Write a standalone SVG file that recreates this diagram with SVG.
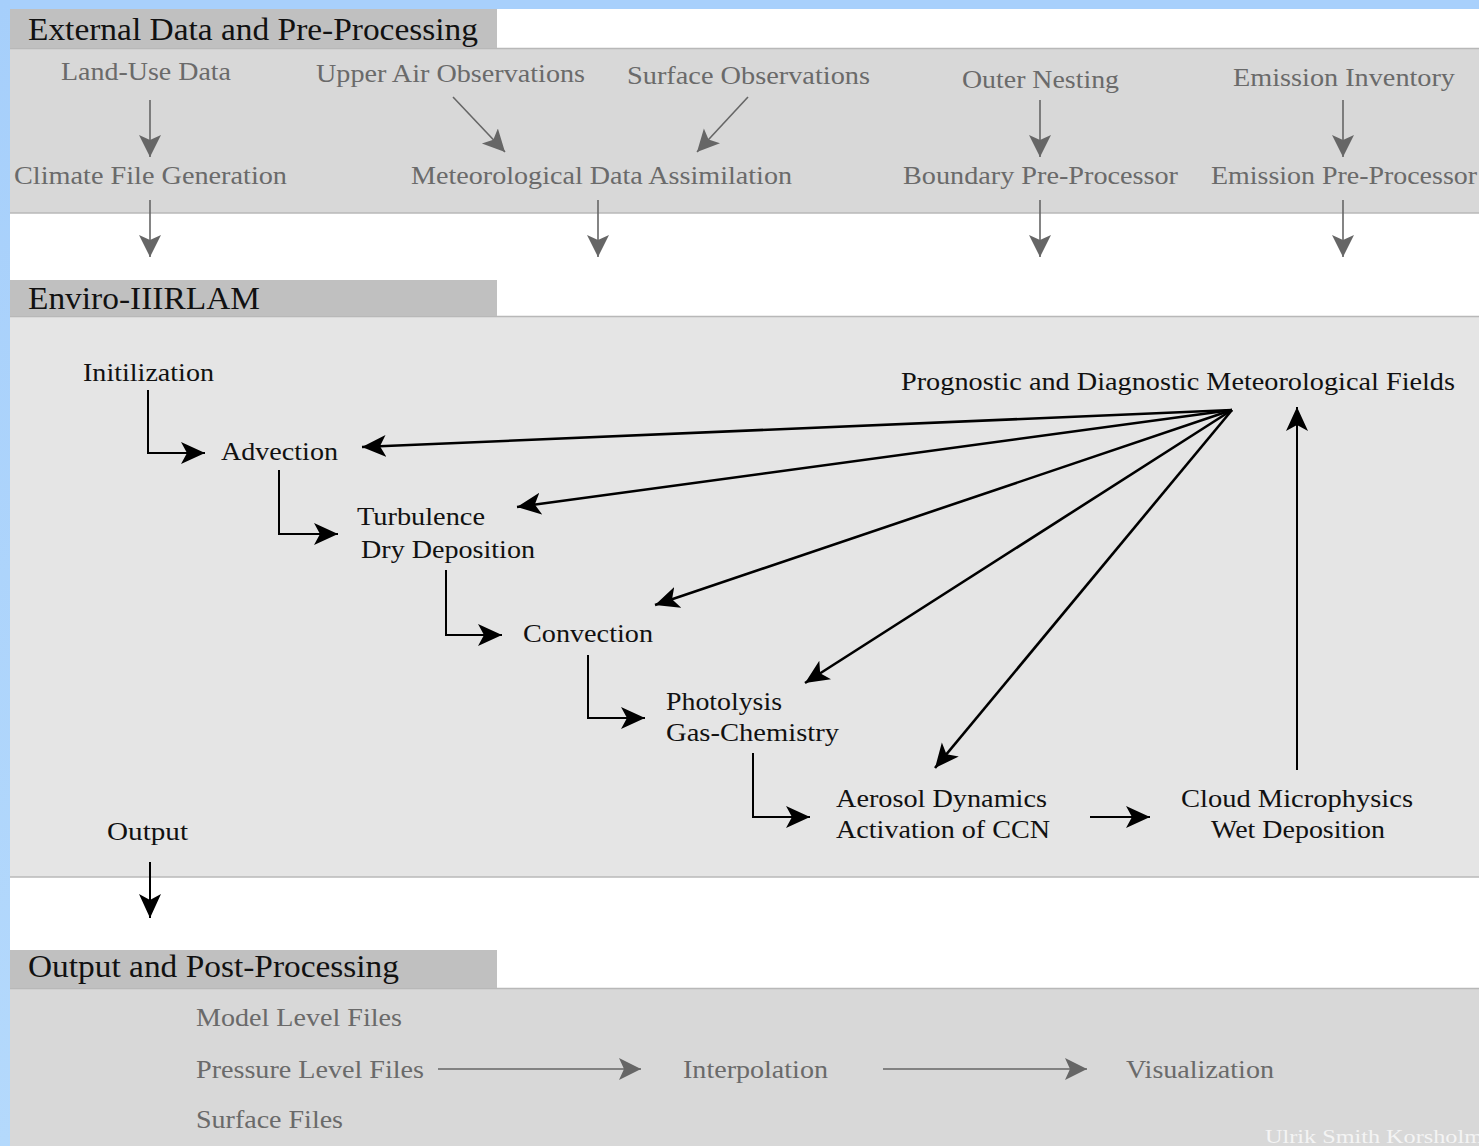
<svg xmlns="http://www.w3.org/2000/svg" width="1479" height="1146" viewBox="0 0 1479 1146">
<style>
.tab{fill:#c0c0c0}
.hdr{font-family:"Liberation Serif",serif;font-size:31px;fill:#111}
.g{font-family:"Liberation Serif",serif;font-size:25px;fill:#6a6a6a}
.k{font-family:"Liberation Serif",serif;font-size:25px;fill:#111}
.gl{stroke:#666;stroke-width:1.6;fill:none}
.kl{stroke:#000;stroke-width:2;fill:none}
.fl{stroke:#000;stroke-width:2.6;fill:none}
.edge{stroke:#b8b8b8;stroke-width:1.5}
</style>
<defs>
<linearGradient id="side" x1="0" y1="0" x2="0" y2="1">
<stop offset="0" stop-color="#a6cffb"/>
<stop offset="1" stop-color="#b4d9fc"/>
</linearGradient>
<marker id="ag" markerUnits="userSpaceOnUse" markerWidth="24" markerHeight="24" refX="22" refY="11" orient="auto">
<path d="M0,0 L22,11 L0,22 L5,11 z" fill="#666"/>
</marker>
<marker id="ak" markerUnits="userSpaceOnUse" markerWidth="26" markerHeight="24" refX="24" refY="11" orient="auto">
<path d="M0,0 L24,11 L0,22 L6,11 z" fill="#000"/>
</marker>
</defs>

<rect x="0" y="0" width="1479" height="1146" fill="#ffffff"/>
<rect x="0" y="0" width="1479" height="9" fill="#a8d0fc"/>
<rect x="0" y="0" width="10" height="1146" fill="url(#side)"/>

<!-- sections -->
<g id="section-external">
<rect x="10" y="48" width="1469" height="165" fill="#d8d8d8"/>
<line class="edge" x1="10" y1="48.5" x2="1479" y2="48.5"/>
<line class="edge" x1="10" y1="213" x2="1479" y2="213"/>
<rect class="tab" x="10" y="9" width="487" height="39"/>
<text class="hdr" x="28" y="40" textLength="450" lengthAdjust="spacingAndGlyphs">External Data and Pre-Processing</text>
</g>
<g id="section-enviro">
<rect x="10" y="316" width="1469" height="561" fill="#e5e5e5"/>
<line class="edge" x1="10" y1="316.5" x2="1479" y2="316.5"/>
<line class="edge" x1="10" y1="877" x2="1479" y2="877"/>
<rect class="tab" x="10" y="280" width="487" height="36"/>
<text class="hdr" x="28" y="309" textLength="232" lengthAdjust="spacingAndGlyphs">Enviro-IIIRLAM</text>
</g>
<g id="section-output">
<rect x="10" y="988" width="1469" height="158" fill="#d8d8d8"/>
<line class="edge" x1="10" y1="988.5" x2="1479" y2="988.5"/>
<rect class="tab" x="10" y="950" width="487" height="38"/>
<text class="hdr" x="28" y="977" textLength="371" lengthAdjust="spacingAndGlyphs">Output and Post-Processing</text>
</g>

<!-- external nodes -->
<g id="land-use"><text class="g" x="61" y="80" textLength="170" lengthAdjust="spacingAndGlyphs">Land-Use Data</text></g>
<g id="upper-air"><text class="g" x="316" y="82" textLength="269" lengthAdjust="spacingAndGlyphs">Upper Air Observations</text></g>
<g id="surface-obs"><text class="g" x="627" y="84" textLength="243" lengthAdjust="spacingAndGlyphs">Surface Observations</text></g>
<g id="outer-nesting"><text class="g" x="962" y="88" textLength="157" lengthAdjust="spacingAndGlyphs">Outer Nesting</text></g>
<g id="emission-inventory"><text class="g" x="1233" y="86" textLength="222" lengthAdjust="spacingAndGlyphs">Emission Inventory</text></g>
<g id="climate-file"><text class="g" x="14" y="184" textLength="273" lengthAdjust="spacingAndGlyphs">Climate File Generation</text></g>
<g id="met-assim"><text class="g" x="411" y="184" textLength="381" lengthAdjust="spacingAndGlyphs">Meteorological Data Assimilation</text></g>
<g id="boundary-pre"><text class="g" x="903" y="184" textLength="275" lengthAdjust="spacingAndGlyphs">Boundary Pre-Processor</text></g>
<g id="emission-pre"><text class="g" x="1211" y="184" textLength="266" lengthAdjust="spacingAndGlyphs">Emission Pre-Processor</text></g>

<!-- enviro nodes -->
<g id="initilization"><text class="k" x="83" y="381" textLength="131" lengthAdjust="spacingAndGlyphs">Initilization</text></g>
<g id="advection"><text class="k" x="221" y="460" textLength="117" lengthAdjust="spacingAndGlyphs">Advection</text></g>
<g id="turbulence">
<text class="k" x="357" y="525" textLength="128" lengthAdjust="spacingAndGlyphs">Turbulence</text>
<text class="k" x="361" y="558" textLength="174" lengthAdjust="spacingAndGlyphs">Dry Deposition</text>
</g>
<g id="convection"><text class="k" x="523" y="642" textLength="130" lengthAdjust="spacingAndGlyphs">Convection</text></g>
<g id="photolysis">
<text class="k" x="666" y="710" textLength="116" lengthAdjust="spacingAndGlyphs">Photolysis</text>
<text class="k" x="666" y="741" textLength="173" lengthAdjust="spacingAndGlyphs">Gas-Chemistry</text>
</g>
<g id="aerosol">
<text class="k" x="836" y="807" textLength="211" lengthAdjust="spacingAndGlyphs">Aerosol Dynamics</text>
<text class="k" x="836" y="838" textLength="214" lengthAdjust="spacingAndGlyphs">Activation of CCN</text>
</g>
<g id="cloud">
<text class="k" x="1181" y="807" textLength="232" lengthAdjust="spacingAndGlyphs">Cloud Microphysics</text>
<text class="k" x="1211" y="838" textLength="174" lengthAdjust="spacingAndGlyphs">Wet Deposition</text>
</g>
<g id="met-fields"><text class="k" x="901" y="390" textLength="554" lengthAdjust="spacingAndGlyphs">Prognostic and Diagnostic Meteorological Fields</text></g>
<g id="output"><text class="k" x="107" y="840" textLength="81" lengthAdjust="spacingAndGlyphs">Output</text></g>

<!-- output nodes -->
<g id="model-level"><text class="g" x="196" y="1026" textLength="206" lengthAdjust="spacingAndGlyphs">Model Level Files</text></g>
<g id="pressure-level"><text class="g" x="196" y="1078" textLength="228" lengthAdjust="spacingAndGlyphs">Pressure Level Files</text></g>
<g id="surface-files"><text class="g" x="196" y="1128" textLength="147" lengthAdjust="spacingAndGlyphs">Surface Files</text></g>
<g id="interpolation"><text class="g" x="683" y="1078" textLength="145" lengthAdjust="spacingAndGlyphs">Interpolation</text></g>
<g id="visualization"><text class="g" x="1126" y="1078" textLength="148" lengthAdjust="spacingAndGlyphs">Visualization</text></g>
<g id="credit"><text x="1265" y="1143" font-family="Liberation Serif, serif" font-size="18" fill="#f4f4f4" textLength="218" lengthAdjust="spacingAndGlyphs">Ulrik Smith Korsholm</text></g>

<!-- connectors -->
<g id="connectors">
<g class="gl" marker-end="url(#ag)">
<line x1="150" y1="100" x2="150" y2="157"/>
<line x1="453" y1="97" x2="505" y2="152"/>
<line x1="748" y1="97" x2="697" y2="152"/>
<line x1="1040" y1="100" x2="1040" y2="157"/>
<line x1="1343" y1="100" x2="1343" y2="157"/>
<line x1="150" y1="200" x2="150" y2="257"/>
<line x1="598" y1="200" x2="598" y2="257"/>
<line x1="1040" y1="200" x2="1040" y2="257"/>
<line x1="1343" y1="200" x2="1343" y2="257"/>
<line x1="438" y1="1069" x2="641" y2="1069"/>
<line x1="883" y1="1069" x2="1087" y2="1069"/>
</g>
<g class="kl" marker-end="url(#ak)">
<polyline points="148,390 148,453 205,453"/>
<polyline points="279,470 279,534 338,534"/>
<polyline points="446,570 446,635 502,635"/>
<polyline points="588,655 588,718 645,718"/>
<polyline points="753,753 753,817 810,817"/>
<line x1="1090" y1="817" x2="1150" y2="817"/>
<line x1="1297" y1="770" x2="1297" y2="407"/>
<line x1="150" y1="862" x2="150" y2="918"/>
</g>
<g class="fl" marker-end="url(#ak)">
<line x1="1232" y1="410" x2="362" y2="447"/>
<line x1="1232" y1="410" x2="517" y2="507"/>
<line x1="1232" y1="410" x2="655" y2="605"/>
<line x1="1232" y1="410" x2="805" y2="683"/>
<line x1="1232" y1="410" x2="935" y2="768"/>
</g>
</g>
</svg>
